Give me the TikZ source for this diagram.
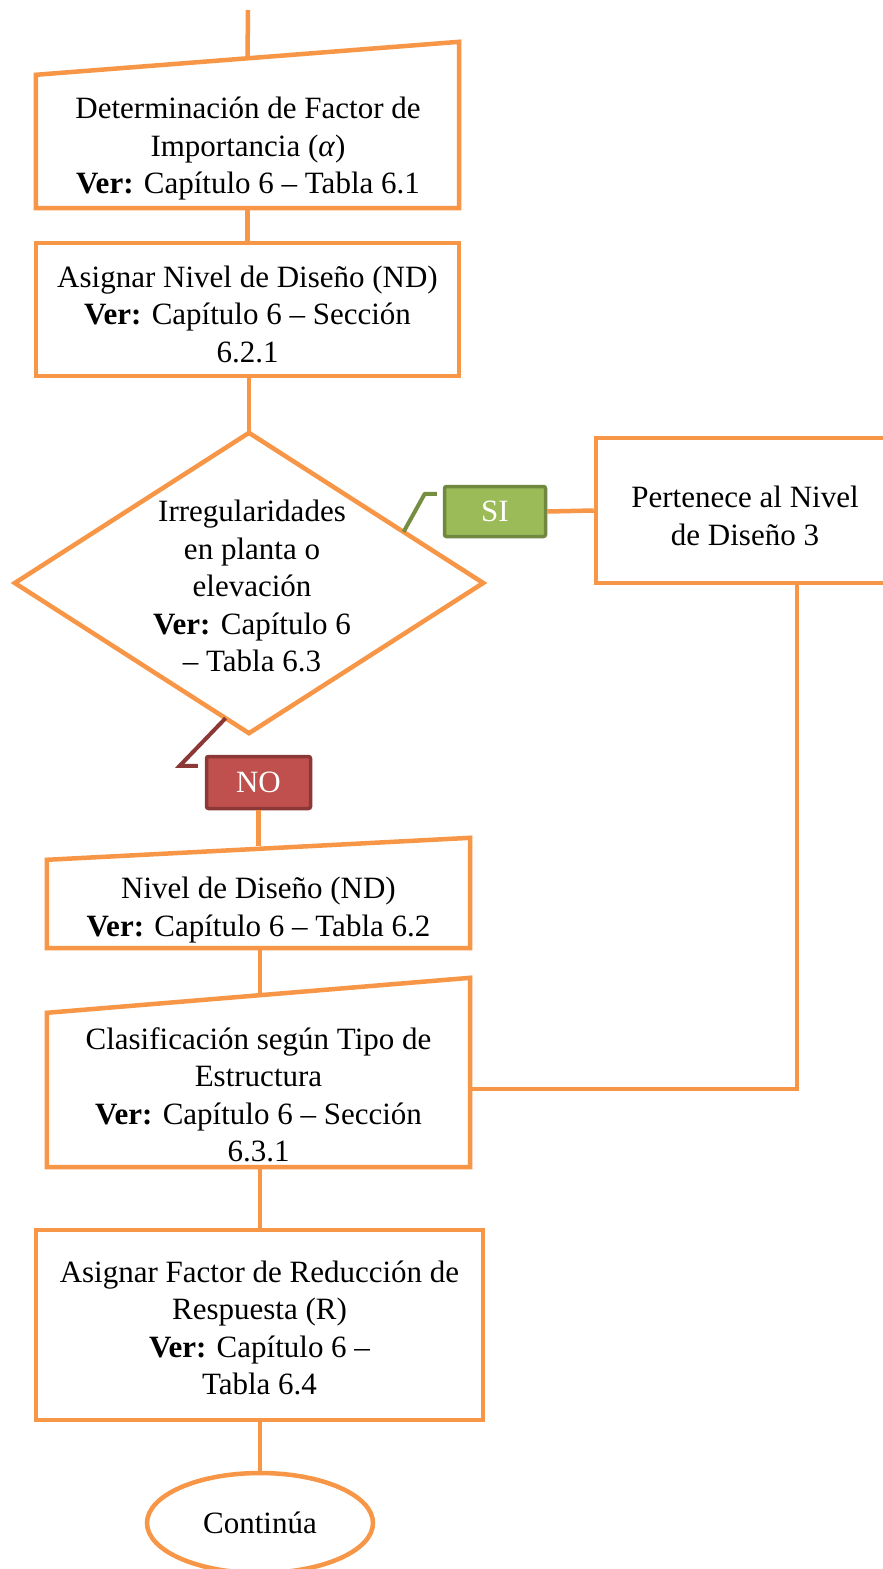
\documentclass[tikz,border=0pt]{standalone}
\usepackage{fontspec}
\setmainfont{Liberation Serif}
\usetikzlibrary{calc,shapes.geometric}
\definecolor{flow}{HTML}{F79646}
\definecolor{sifill}{HTML}{9BBB59}
\definecolor{siedge}{HTML}{71893F}
\definecolor{nofill}{HTML}{C0504D}
\definecolor{noedge}{HTML}{8C3836}
\tikzset{
  txt/.style={font=\fontsize{31}{37.5}\selectfont, align=center, text=black, inner sep=0pt},
  frame/.style={draw=flow, line width=4.5pt, line join=miter},
  shapebox/.style={draw=none, inner sep=0pt},
  link/.style={draw=flow, line width=4.5pt},
  tag/.style={font=\fontsize{31}{37}\selectfont, text=white, rounded corners=2pt, line width=3.5pt, inner sep=0pt},
}
\begin{document}
\begin{tikzpicture}[x=1pt,y=-1pt]
\clip (0,0) rectangle (883,1569);
\fill[white] (0,0) rectangle (883,1569);

% ---- manual input: importance factor
\node[shapebox, minimum width=423pt, minimum height=166pt] (fi) at (247.5,125) {};
\draw[frame] ($(fi.north west)+(0,33)$) -- (fi.north east) -- (fi.south east) -- (fi.south west) -- cycle;
\node[txt] (fiT) at (248,149) {Determinación de Factor de\\Importancia (\textit{α})\\\textbf{Ver:} Capítulo 6 – Tabla 6.1};
\coordinate (start) at (248,10);

% ---- design level assignment
\node[frame, txt, minimum width=423pt, minimum height=133pt] (nd) at (247.5,309.5) {};
\node[txt] (ndT) at (247.5,314) {Asignar Nivel de Diseño (ND)\\\textbf{Ver:} Capítulo 6 – Sección\\6.2.1};

% ---- decision diamond
\node[shapebox, minimum width=468pt, minimum height=300pt] (dia) at (249,583) {};
\draw[frame] (dia.north) -- (dia.east) -- (dia.south) -- (dia.west) -- cycle;
\node[txt] (diaT) at (252,586) {Irregularidades\\en planta o\\elevación\\\textbf{Ver:} Capítulo 6\\– Tabla 6.3};

% ---- answer tags
\node[tag, fill=sifill, draw=siedge, minimum width=101pt, minimum height=50pt] (si) at (495,511.5) {SI};
\node[tag, fill=nofill, draw=noedge, minimum width=104pt, minimum height=52pt] (no) at (258.5,782.5) {NO};

% ---- level 3 box (runs past the right margin)
\node[frame, minimum width=300pt, minimum height=145pt] (pe) at (746,510.5) {};
\node[txt] (peT) at (745,516) {Pertenece al Nivel\\de Diseño 3};

% ---- manual input: design level table
\node[shapebox, minimum width=423pt, minimum height=110pt] (nv) at (258.5,893) {};
\draw[frame] ($(nv.north west)+(0,22)$) -- (nv.north east) -- (nv.south east) -- (nv.south west) -- cycle;
\node[txt] (nvT) at (258.5,910) {Nivel de Diseño (ND)\\\textbf{Ver:} Capítulo 6 – Tabla 6.2};

% ---- manual input: structure type
\node[shapebox, minimum width=423pt, minimum height=189pt] (cl) at (258.5,1072.5) {};
\draw[frame] ($(cl.north west)+(0,35)$) -- (cl.north east) -- (cl.south east) -- (cl.south west) -- cycle;
\node[txt] (clT) at (258.5,1095) {Clasificación según Tipo de\\Estructura\\\textbf{Ver:} Capítulo 6 – Sección\\6.3.1};

% ---- reduction factor
\node[frame, minimum width=447pt, minimum height=190pt] (rf) at (259.5,1325) {};
\node[txt] (rfT) at (259.5,1328) {Asignar Factor de Reducción de\\Respuesta (R)\\\textbf{Ver:} Capítulo 6 –\\Tabla 6.4};

% ---- terminator
\node[frame, ellipse, inner sep=0pt, minimum width=226pt, minimum height=100pt] (end) at (260,1523) {};
\node[txt] at (260,1523) {Continúa};

% ---- connectors
\draw[link] (start) -- ($(fi.north)+(0,16.5)$);
\draw[link] (fi.south) -- (nd.north);
\draw[link] (nd.south -| dia.north) -- (dia.north);
\draw[siedge!90!sifill, line width=4pt, line join=round]
  ($(dia.north)!0.66!(dia.east)$) -- ($(si.north west)+(-18,9)$) -- ($(si.north west)+(-6,9)$);
\draw[link] (si.east) -- (pe.west);
\draw[noedge, line width=4pt, line join=miter]
  ($(dia.west)!0.9!(dia.south)$) -- ($(no.north west)+(-25,11)$) -- ($(no.north west)+(-7,11)$);
\draw[link] (no.south) -- (no.south |- nv.north) -- ++(0,8);
\draw[link] (nv.south -| 260,0) -- ($(cl.north)+(1.5,17)$);
\coordinate (turn) at (797,1089);
\draw[link] (turn |- pe.south) -- (turn) -- (turn -| cl.east);
\draw[link] (cl.south -| 260,0) -- (rf.north -| 260,0);
\draw[link] (rf.south -| 260,0) -- (end.north);
\end{tikzpicture}
\end{document}
